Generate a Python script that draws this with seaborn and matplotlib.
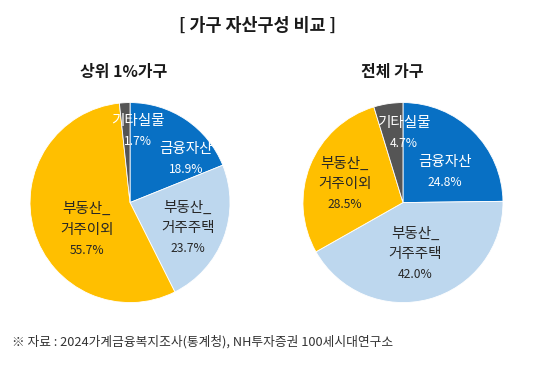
import numpy as np
import matplotlib
matplotlib.use('Agg')
import matplotlib.pyplot as plt
import seaborn as sns

# 가구 자산구성 비교 (단위: %)
categories = ['금융자산', '부동산_\n거주주택', '부동산_\n거주이외', '기타실물']
top1_values = [18.9, 23.7, 55.7, 1.7]
all_values = [24.8, 42.0, 28.5, 4.7]
titles = ['상위 1%가구', '전체 가구']

colors = ['#0870C4', '#BDD7EE', '#FFBF00', '#555555']
text_colors = ['white', '#262626', '#262626', 'white']

sns.set_theme(style='white')
plt.rcParams['font.family'] = ['Noto Sans CJK KR', 'DejaVu Sans']

fig = plt.figure(figsize=(5.42, 3.65), dpi=100)
fig.patch.set_facecolor('white')

fig.text(0.475, 0.928, '[ 가구 자산구성 비교 ]', ha='center', va='center',
         fontsize=12.5, fontweight='bold', color='#1a1a1a')
fig.text(0.022, 0.064, '※ 자료 : 2024가계금융복지조사(통계청), NH투자증권 100세시대연구소',
         ha='left', va='center', fontsize=9.2, color='#333333')

boxes = [[0.0554, 0.171, 0.369, 0.548], [0.559, 0.171, 0.369, 0.548]]
title_pos = [(0.228, 0.802), (0.723, 0.802)]
# label placement: (radius fraction, angle shift in degrees) per slice
label_pos = [[(0.71, -18.0), (0.63, -3.1), (0.51, 15.5), (0.715, -9.5)],
             [(0.52, -9.4), (0.53, -2.0), (0.61, 4.1), (0.695, -9.3)]]


def draw_pie(box, values, lp):
    ax = fig.add_axes(box)
    wedges, _ = ax.pie(values, colors=colors, startangle=90, counterclock=False,
                       wedgeprops=dict(edgecolor='white', linewidth=0.6))
    ax.set_xlim(-1, 1)
    ax.set_ylim(-1, 1)
    ax.set_aspect('equal')
    for w, name, v, tc, (r, da) in zip(wedges, categories, values, text_colors, lp):
        mid = np.deg2rad((w.theta1 + w.theta2) / 2 + da)
        x, y = r * np.cos(mid), r * np.sin(mid)
        lines = name.split('\n')
        n = len(lines) + 1
        step = 0.205
        y0 = y + step * (n - 1) / 2
        for i, line in enumerate(lines):
            ax.text(x, y0 - i * step, line, ha='center', va='center',
                    fontsize=10.5, color=tc)
        ax.text(x, y0 - len(lines) * step, f'{v:.1f}%', ha='center', va='center',
                fontsize=8.7, color=tc)
    return ax


draw_pie(boxes[0], top1_values, label_pos[0])
draw_pie(boxes[1], all_values, label_pos[1])

for (x, y), t in zip(title_pos, titles):
    fig.text(x, y, t, ha='center', va='center', fontsize=11.5, fontweight='bold',
             color='#1a1a1a')

fig.savefig('out.png', dpi=100)
